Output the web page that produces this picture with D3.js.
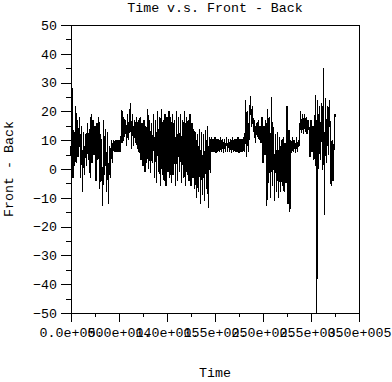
<!DOCTYPE html>
<html>
<head>
<meta charset="utf-8">
<script src="https://cdn.jsdelivr.net/npm/d3@7"></script>
<style>
  body { margin: 0; background: #fff; }
  svg text { font-family: "Liberation Mono", "DejaVu Sans Mono", monospace; font-size: 13.3px; fill: #000; }
</style>
</head>
<body>
<svg id="canvas"></svg>
<script>
let width = 392;
let height = 382;

let title = 'Time v.s. Front - Back';
let xTitle = 'Time';
let yTitle = 'Front - Back';

let xTickValues = [0, 50000, 100000, 150000, 200000, 250000, 300000];
let xTickLabels = ['0.0e+000', '5.0e+004', '1.0e+005', '1.5e+005', '2.0e+005', '2.5e+005', '3.0e+005'];
let yTickValues = [-50, -40, -30, -20, -10, 0, 10, 20, 30, 40, 50];

// sample interval of the recording
let sampleStep = 1000;

// Front - Back readings, one every sampleStep
let frontBack = [
	5, 28, -3, 13.5, 1, 22, 2, 17, 4, 18, -3, 15, -8, 13, -2, 12, 1,
	16, 3, 14, -3, 19, 2, 17, 5, 15, -4, 16, 3, 18, -7, 12, 2, -13,
	17, -2, 14, -8, 13, -12, 8, -3, 10, 2,
	10, 6, 10, 6, 10, 6, 10, 6, 9,
	20.5, 9, 18, 11, 17, 8, 19, 10, 18, 23, 7, 19, 8, 17, 9, 18, 7, 17, 5.5,
	18, 3, 16, 1, 17, -1, 15, 2, 21, 0, 17, -1.5, 16, 2,
	19, -3, 17, -5, 20, -1, 18, -6, 21, -2, 17, -4, 19, -6, 18, -1, 20, -3,
	18, -5, 19, -2, 17, -6, 20, -4, 18, -1, 19, -5, 17, -3, 20, -6, 18, -2, 17, -4, 19, -6, 16, -3,
	14, -7, 13, -10, 12, -8, 14, -12, 13, -9, 12, -11, 13.5, -7, 15, -13.5, 11,
	-1.5, 11,
	6, 10.5, 6, 11, 5.5, 10.5, 6, 10.5, 6, 11, 6, 10.5, 5.5, 10.5, 6, 11, 6, 10.5,
	6, 10.5, 5.5, 11, 6, 10.5, 6, 10.5, 6, 11, 5.5, 10.5, 6, 10.5, 6, 11, 6,
	24, 4, 20, 6, 18, 25.5, 14.5, 22,
	13, 17, 9, 16, 11, 17, 10, 15, 9,
	18, 2, 15, 5, 17, -13, 21, -5, 18, -10, 25,
	-6, 14.6, -11, 12, -8, 13, -10, 11, -8, 10, -6, 11, -8, 9, -5, 22,
	-12, 13.5, -15, 10, 5.5, 11, 6, 10, 5.5, 11, 6, 10, 8,
	20, 12.5, 19, 12, 19, 13, 18, 12, 17, 14,
	4, 17, 6, 15, 3, 16, 25.7, -50,
	24, 0, 22, 3, 23, -0.3, 35, -16,
	24.5, 2, 22, 5, 24, 13.5, -6, 10, -4, 8, 19, 18
];

let padLeft = 71;
let padRight = 33;
let padTop = 25;
let padBottom = 69;

let canvas = d3.select('#canvas').attr('width', width).attr('height', height);

let xScale = d3.scaleLinear().domain([0, 300000]).range([padLeft, width - padRight]);
let yScale = d3.scaleLinear().domain([-50, 50]).range([height - padBottom, padTop]);

// minor ticks halfway between the labelled ones
let xMinor = xTickValues.slice(1).map((v, i) => (v + xTickValues[i]) / 2);
let yMinor = yTickValues.slice(1).map((v, i) => (v + yTickValues[i]) / 2);

let drawAxes = () => {
	let xAxis = d3.axisBottom(xScale).tickValues(xTickValues).tickSize(9).tickPadding(6)
		.tickFormat((d, i) => xTickLabels[i]);
	let yAxis = d3.axisLeft(yScale).tickValues(yTickValues).tickSize(10).tickPadding(4);

	let gx = canvas.append('g')
		.attr('id', 'x-axis')
		.attr('transform', `translate(0, ${height - padBottom})`)
		.call(xAxis);
	gx.append('g').call(d3.axisBottom(xScale).tickValues(xMinor).tickSize(4).tickFormat(''));

	let gy = canvas.append('g')
		.attr('id', 'y-axis')
		.attr('transform', `translate(${padLeft}, 0)`)
		.call(yAxis);
	gy.append('g').call(d3.axisLeft(yScale).tickValues(yMinor).tickSize(5).tickFormat(''));

	canvas.selectAll('.domain').remove();
	canvas.selectAll('.tick line').attr('stroke', '#000').attr('shape-rendering', 'crispEdges');
	canvas.selectAll('.tick text')
		.style('font-family', '"Liberation Mono", monospace')
		.style('font-size', '13.3px')
		.attr('fill', '#000');

	// frame
	canvas.append('rect')
		.attr('x', xScale(0))
		.attr('y', yScale(50))
		.attr('width', xScale(300000) - xScale(0))
		.attr('height', yScale(-50) - yScale(50))
		.attr('fill', 'none')
		.attr('stroke', '#000')
		.attr('shape-rendering', 'crispEdges');
};

let drawLine = () => {
	let line = d3.line()
		.x((d, i) => xScale(i * sampleStep))
		.y(d => yScale(d));

	canvas.append('path')
		.datum(frontBack)
		.attr('d', line)
		.attr('fill', 'none')
		.attr('stroke', '#000')
		.attr('stroke-width', 1.2)
		.attr('shape-rendering', 'crispEdges');
};

let drawTitles = () => {
	canvas.append('text')
		.attr('x', 215)
		.attr('y', 12)
		.attr('text-anchor', 'middle')
		.text(title);

	canvas.append('text')
		.attr('x', 215)
		.attr('y', 377)
		.attr('text-anchor', 'middle')
		.text(xTitle);

	canvas.append('text')
		.attr('transform', `translate(13, ${yScale(0)}) rotate(-90)`)
		.attr('text-anchor', 'middle')
		.text(yTitle);
};

drawAxes();
drawLine();
drawTitles();
</script>
</body>
</html>
